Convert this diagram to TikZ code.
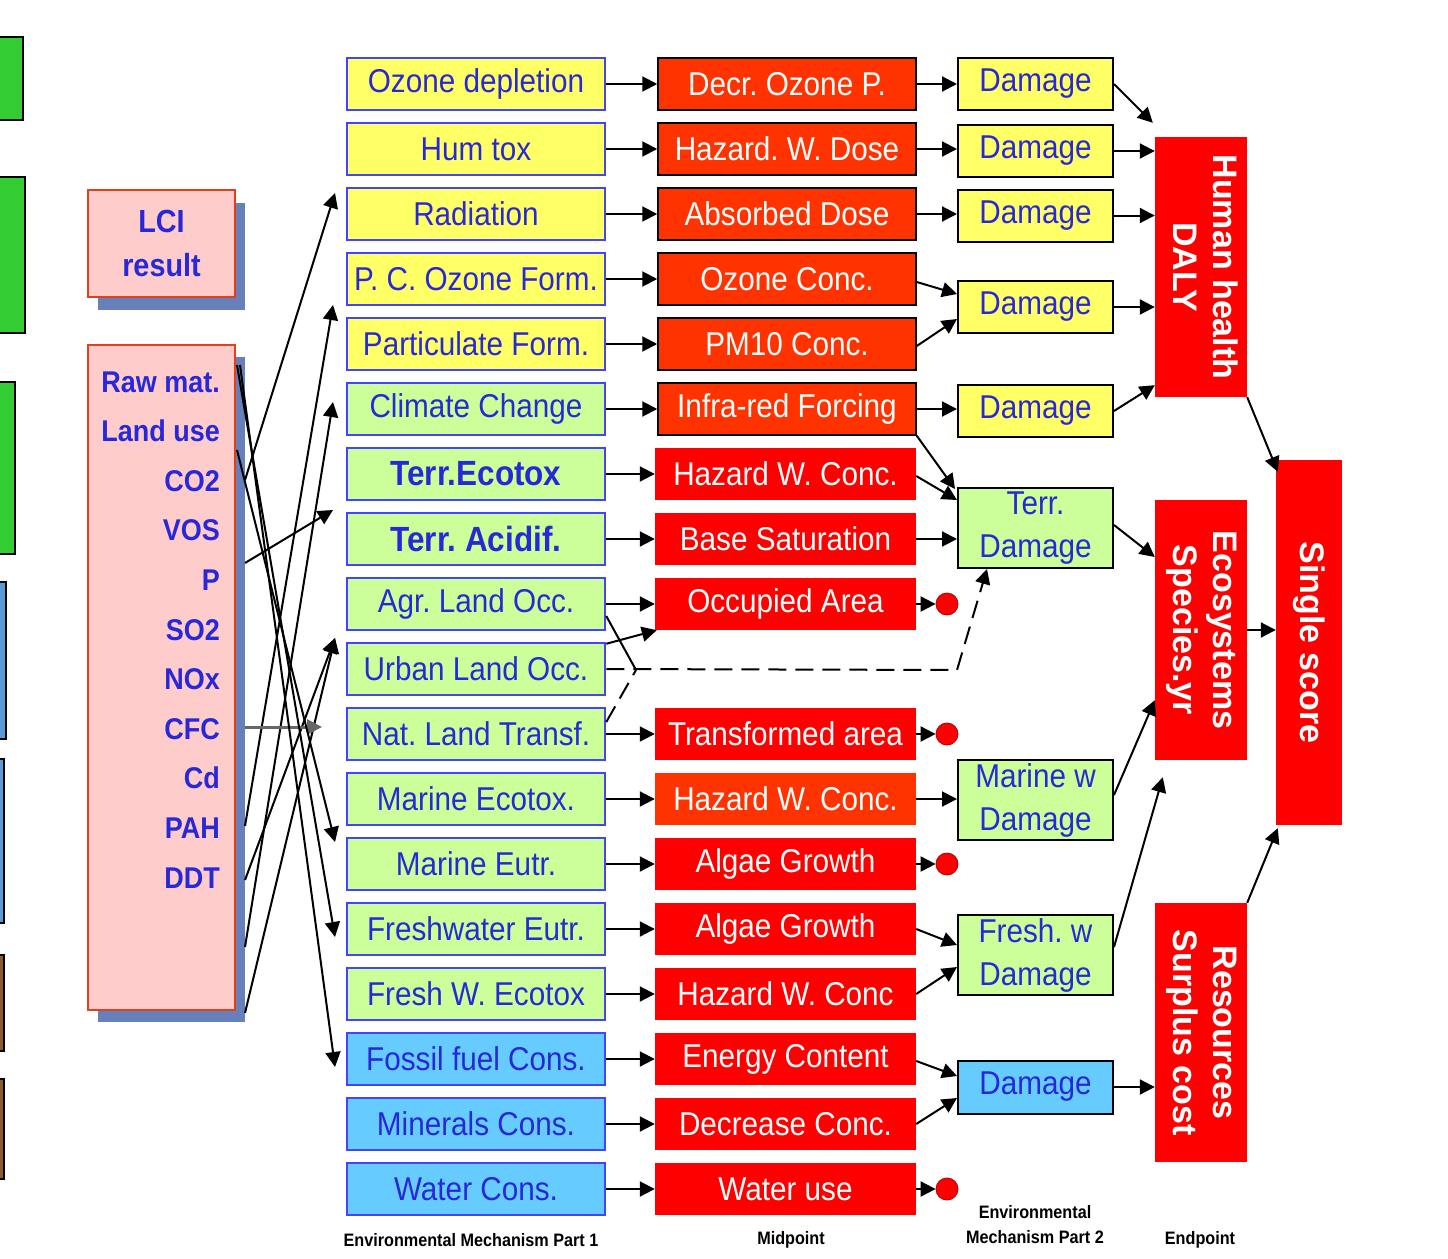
\documentclass[tikz,border=0pt]{standalone}
\usepackage{fontspec}
\usepackage{graphicx}
\setmainfont{Liberation Sans}[FakeStretch=0.9]
\newfontfamily\rotfont{Liberation Sans}
\usetikzlibrary{arrows.meta,calc}
\definecolor{pinkf}{HTML}{FFCCCC}
\definecolor{pinkb}{HTML}{E0401A}
\definecolor{shd}{HTML}{6680BB}
\definecolor{catb}{HTML}{4444FF}
\definecolor{catt}{HTML}{2828D8}
\definecolor{yel}{HTML}{FFFF66}
\definecolor{lgr}{HTML}{CCFF99}
\definecolor{lbl}{HTML}{66CCFF}
\definecolor{ored}{HTML}{FF3300}
\definecolor{pred}{HTML}{FF0000}
\definecolor{stripg}{HTML}{33CC33}
\definecolor{stripb}{HTML}{5B9BD5}
\definecolor{stripr}{HTML}{8C5A2B}
\newcommand\cfnt{\fontsize{33}{38}\selectfont}
\newcommand\tfnt{\bfseries\fontsize{35}{40}\selectfont}
\newcommand\dfnt{\fontsize{33}{43}\selectfont}
\newcommand\rfnt{\bfseries\fontsize{30}{44}\selectfont}
\newcommand\lcifnt{\bfseries\fontsize{32}{44}\selectfont}
\newcommand\efnt{\rotfont\bfseries\fontsize{34}{40}\selectfont}
\newcommand\lfnt{\bfseries\fontsize{18}{25}\selectfont}
\frenchspacing
\begin{document}
\begin{tikzpicture}[x=1pt,y=-1pt,
  cat/.style={draw=catb, line width=2.5pt, minimum width=258pt, minimum height=52pt, inner sep=0pt, text=catt, font=\cfnt},
  midA/.style={fill=ored, draw=black, line width=1.5pt, minimum width=258pt, minimum height=52pt, inner sep=0pt, text=white, font=\cfnt},
  midB/.style={fill=pred, minimum width=261pt, minimum height=52pt, inner sep=0pt, text=white, font=\cfnt},
  dmg/.style={draw=black, line width=2pt, minimum width=155pt, minimum height=52pt, inner sep=0pt, text=catt, font=\dfnt, align=center},
  endp/.style={fill=pred, minimum width=92pt, minimum height=260pt, inner sep=0pt, text=white, font=\efnt},
  arr/.style={draw=black, line width=2pt, -{Triangle[length=15pt,width=15pt]}},
  ln/.style={draw=black, line width=2pt},
  dsh/.style={draw=black, line width=2pt, dash pattern=on 18pt off 9pt},
  dot/.style={circle, fill=pred, draw=pred!70!black, line width=0.8pt, minimum size=22pt, inner sep=0pt},
  pink/.style={fill=pinkf, draw=pinkb, line width=2.5pt, inner sep=0pt},
  rawtxt/.style={text=catt, font=\rfnt, inner sep=0pt},
  lab/.style={text=black, font=\lfnt, inner sep=0pt}
]
\useasboundingbox (0,0) rectangle (1448,1258);
\fill[white] (0,0) rectangle (1448,1258);

% left strip
\draw[fill=stripg, line width=1.5pt] (-10,37) rectangle (23,120);
\draw[fill=stripg, line width=1.5pt] (-10,177) rectangle (25,333);
\draw[fill=stripg, line width=1.5pt] (-10,382) rectangle (15,554);
\draw[fill=stripb, line width=1.5pt] (-10,582) rectangle (6,739);
\draw[fill=stripb, line width=1.5pt] (-10,759) rectangle (4,923);
\draw[fill=stripr, line width=1.5pt] (-10,955) rectangle (4,1051);
\draw[fill=stripr, line width=1.5pt] (-10,1079) rectangle (4,1179);

% LCI boxes
\fill[shd] (98,203) rectangle (245,310);
\node[pink, minimum width=147pt, minimum height=107pt, text=catt, font=\lcifnt, align=center] (lci) at (161.5,243.5) {LCI\\result};
\fill[shd] (98,357) rectangle (245,1022);
\node[pink, minimum width=147pt, minimum height=665pt] (raw) at (161.5,677.5) {};
\foreach \t [count=\i] in {Raw mat., Land use, CO2, VOS, P, SO2, NOx, CFC, Cd, PAH, DDT}
  \node[rawtxt, anchor=base east] (rt\i) at (220,{392+49.6*(\i-1)}) {\t};

% category column
\foreach \t [count=\i] in {Ozone depletion, Hum tox, Radiation, P. C. Ozone Form., Particulate Form.}
  \node[cat, fill=yel] (c\i) at (476,{84+65*(\i-1)}) {\t};
\node[cat, fill=lgr] (c6) at (476,409) {Climate Change};
\node[cat, fill=lgr, font=\tfnt] (c7) at (476,474) {Terr.Ecotox};
\node[cat, fill=lgr, font=\tfnt] (c8) at (476,539) {Terr. Acidif.};
\node[cat, fill=lgr] (c9) at (476,604) {Agr. Land Occ.};
\node[cat, fill=lgr] (c10) at (476,669) {Urban Land Occ.};
\node[cat, fill=lgr] (c11) at (476,734) {Nat. Land Transf.};
\node[cat, fill=lgr] (c12) at (476,799) {Marine Ecotox.};
\node[cat, fill=lgr] (c13) at (476,864) {Marine Eutr.};
\node[cat, fill=lgr] (c14) at (476,929) {Freshwater Eutr.};
\node[cat, fill=lgr] (c15) at (476,994) {Fresh W. Ecotox};
\node[cat, fill=lbl] (c16) at (476,1059) {Fossil fuel Cons.};
\node[cat, fill=lbl] (c17) at (476,1124) {Minerals Cons.};
\node[cat, fill=lbl] (c18) at (476,1189) {Water Cons.};

% midpoint column
\foreach \t [count=\i] in {Decr. Ozone P., Hazard. W. Dose, Absorbed Dose, Ozone Conc., PM10 Conc., Infra-red Forcing}
  \node[midA] (m\i) at (787,{84+65*(\i-1)}) {\t};
\node[midB] (m7) at (785.5,474) {Hazard W. Conc.};
\node[midB] (m8) at (785.5,539) {Base Saturation};
\node[midB] (m9) at (785.5,604) {Occupied Area};
\node[midB] (m11) at (785.5,734) {Transformed area};
\node[midB, fill=ored] (m12) at (785.5,799) {Hazard W. Conc.};
\node[midB] (m13) at (785.5,864) {Algae Growth};
\node[midB] (m14) at (785.5,929) {Algae Growth};
\node[midB] (m15) at (785.5,994) {Hazard W. Conc};
\node[midB] (m16) at (785.5,1059) {Energy Content};
\node[midB] (m17) at (785.5,1124) {Decrease Conc.};
\node[midB] (m18) at (785.5,1189) {Water use};

% dots
\node[dot] (o9) at (947,604) {};
\node[dot] (o11) at (947,734) {};
\node[dot] (o13) at (947,864) {};
\node[dot] (o18) at (947,1189) {};

% damage column
\node[dmg, fill=yel] (d1) at (1035.5,84) {Damage};
\node[dmg, fill=yel] (d2) at (1035.5,151) {Damage};
\node[dmg, fill=yel] (d3) at (1035.5,215.5) {Damage};
\node[dmg, fill=yel] (d45) at (1035.5,307) {Damage};
\node[dmg, fill=yel] (d6) at (1035.5,411) {Damage};
\node[dmg, fill=lgr, minimum height=80pt] (tD) at (1035.5,528) {Terr.\\Damage};
\node[dmg, fill=lgr, minimum height=80pt] (mD) at (1035.5,800) {Marine w\\Damage};
\node[dmg, fill=lgr, minimum height=80pt] (fD) at (1035.5,955) {Fresh. w\\Damage};
\node[dmg, fill=lbl, minimum height=53pt] (bD) at (1035.5,1087) {Damage};

% endpoints
\node[endp] (HH) at (1201,267) {\rotatebox{-90}{\begin{tabular}{@{}c@{}}Human health\\DALY\end{tabular}}};
\node[endp] (Eco) at (1201,630) {\rotatebox{-90}{\begin{tabular}{@{}c@{}}Ecosystems\\Species.yr\end{tabular}}};
\node[endp, minimum height=259pt] (Res) at (1201,1032.5) {\rotatebox{-90}{\begin{tabular}{@{}c@{}}Resources\\Surplus cost\end{tabular}}};
\node[endp, minimum width=66pt, minimum height=365pt] (S) at (1309,642.5) {\rotatebox{-90}{Single score}};

% crossing lines from LCI result
\coordinate (s1) at (245,480);  \coordinate (e1) at (335,193);
\coordinate (s2) at (245,826);  \coordinate (e2) at (333,305);
\coordinate (s3) at (245,947);  \coordinate (e3) at (333,402);
\coordinate (s4) at (245,563);  \coordinate (e4) at (333,510);
\coordinate (s5) at (245,880);  \coordinate (e5) at (335,638);
\coordinate (s6) at (245,1013);
\coordinate (s7) at (245,727);  \coordinate (e7) at (322,727);
\coordinate (s8) at (237,450);  \coordinate (e8) at (335,842);
\coordinate (s9) at (237,365);  \coordinate (e9) at (335,937);
\coordinate (s10) at (240,365); \coordinate (e10) at (335,1067);
\draw[arr] (s1) -- (e1);
\draw[arr] (s2) -- (e2);
\draw[arr] (s3) -- (e3);
\draw[arr] (s4) -- (e4);
\draw[arr] (s5) -- (e5);
\draw[arr] (s6) -- (e5);
\draw[arr, draw=black!60, line width=3pt] (s7) -- (e7);
\draw[arr] (s8) -- (e8);
\draw[arr] (s9) -- (e9);
\draw[arr] (s10) -- (e10);

% category -> midpoint
\foreach \i in {1,...,9,11,12,13,14,15,16,17,18}
  \draw[arr] (c\i.east) -- (c\i.east -| m\i.west);
\draw[arr] ($(c10.north east)+(0,2)$) -- ($(m9.south west)+(2,0)$);

% land use dashed
\coordinate (jn) at (636,670);
\coordinate (bend) at (957,670);
\draw[ln] ($(c9.east)+(0,12)$) -- (jn);
\draw[dsh] ($(c11.east)+(0,-12)$) -- (jn);
\draw[dsh, -{Triangle[length=15pt,width=15pt]}] (c10.east) -- (bend) -- ($(tD.south west)+(30,0)$);

% midpoint -> dots
\draw[arr] (m9.east) -- (o9.west);
\draw[arr] (m11.east) -- (o11.west);
\draw[arr] (m13.east) -- (o13.west);
\draw[arr] (m18.east) -- (o18.west);

% midpoint -> damage
\draw[arr] (m1.east) -- (m1.east -| d1.west);
\draw[arr] (m2.east) -- (m2.east -| d2.west);
\draw[arr] (m3.east) -- (m3.east -| d3.west);
\draw[arr] ($(m4.east)+(0,3)$) -- ($(d45.west)+(0,-13)$);
\draw[arr] ($(m5.east)+(0,2)$) -- ($(d45.west)+(0,12)$);
\draw[arr] (m6.east) -- (m6.east -| d6.west);
\draw[arr] (m6.south east) -- ($(tD.north west)+(-2,2)$);
\draw[arr] ($(m7.east)+(0,2)$) -- ($(tD.west)+(0,-28)$);
\draw[arr] (m8.east) -- (m8.east -| tD.west);
\draw[arr] (m12.east) -- (m12.east -| mD.west);
\draw[arr] (m14.east) -- ($(fD.west)+(0,-10)$);
\draw[arr] (m15.east) -- ($(fD.west)+(0,12)$);
\draw[arr] ($(m16.east)+(0,2)$) -- ($(bD.west)+(0,-11)$);
\draw[arr] (m17.east) -- ($(bD.west)+(0,11)$);

% damage -> endpoint
\draw[arr] (d1.east) -- ($(HH.north west)+(-2,-14)$);
\draw[arr] (d2.east) -- (d2.east -| HH.west);
\draw[arr] (d3.east) -- (d3.east -| HH.west);
\draw[arr] (d45.east) -- (d45.east -| HH.west);
\draw[arr] (d6.east) -- ($(HH.south west)+(0,-12)$);
\draw[arr] ($(tD.east)+(0,-3)$) -- ($(Eco.west)+(0,-73)$);
\draw[arr] ($(mD.east)+(0,-5)$) -- ($(Eco.south west)+(0,-60)$);
\draw[arr] ($(fD.east)+(0,-8)$) -- ($(Eco.south west)+(8,17)$);
\draw[arr] (bD.east) -- (bD.east -| Res.west);

% endpoint -> single score
\draw[arr] (HH.south east) -- ($(S.north west)+(2,12)$);
\draw[arr] (Eco.east) -- (Eco.east -| S.west);
\draw[arr] (Res.north east) -- ($(S.south west)+(2,3)$);

% bottom labels
\node[lab] (l1) at (471,1240) {Environmental Mechanism Part 1};
\node[lab] (l2) at (791,1240) {Midpoint};
\node[lab, align=center] (l3) at (1035,1225) {Environmental\\Mechanism Part 2};
\node[lab] (l4) at (1200,1240) {Endpoint};
\end{tikzpicture}
\end{document}
